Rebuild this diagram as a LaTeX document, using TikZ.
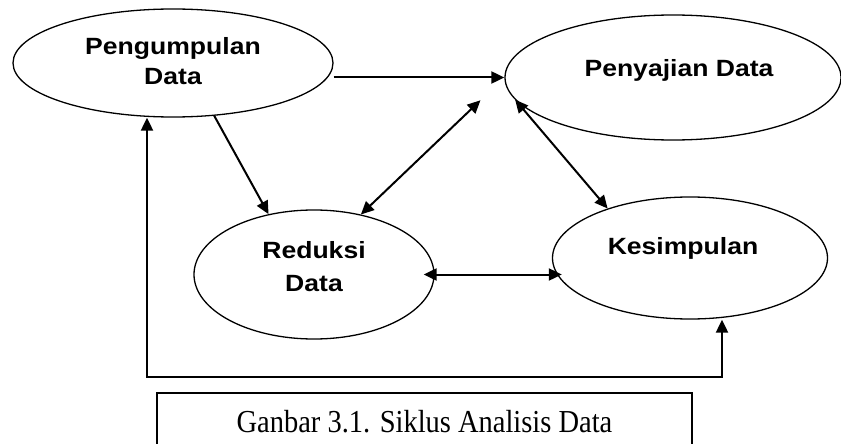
\documentclass[tikz,border=0pt]{standalone}
\usepackage{fontspec}
\setmainfont{Liberation Serif}
\setsansfont{Liberation Sans}
\newfontfamily\tahapfont[FakeStretch=1.13]{Liberation Sans}
\newfontfamily\capfont[FakeStretch=0.89]{Liberation Serif}
\usepackage{tikz}
\usetikzlibrary{shapes.geometric, arrows.meta, positioning}

\tikzset{
  tahap/.style={draw, ellipse, line width=1.3pt, inner sep=0pt},
  judul/.style={font=\tahapfont\bfseries\fontsize{23.5}{30}\selectfont, align=center},
  panah/.style={-{Triangle[length=13pt,width=12pt]}, line width=2pt},
  duapanah/.style={{Triangle[length=13pt,width=12pt]}-{Triangle[length=13pt,width=12pt]}, line width=2pt},
}

\begin{document}
\begin{tikzpicture}[x=1pt,y=-1pt]
  \useasboundingbox (0,0) rectangle (841,444);
  % tahap analisis
  \node[tahap, minimum width=320pt, minimum height=108pt] (kumpul) at (173,63) {};
  \node[tahap, minimum width=336pt, minimum height=125pt] (saji) at (673,77.5) {};
  \node[tahap, minimum width=240pt, minimum height=129pt] (reduksi) at (314,274.5) {};
  \node[tahap, minimum width=275pt, minimum height=122pt] (simpul) at (690,258) {};
  \node[judul] (kumpul-t) at (173,61.4) {Pengumpulan\\Data};
  \node[judul, anchor=base] (saji-t) at (679,77) {Penyajian Data};
  \node[judul, font=\tahapfont\bfseries\fontsize{23.5}{33}\selectfont] (reduksi-t) at (314,266.9) {Reduksi\\Data};
  \node[judul, anchor=base] (simpul-t) at (683,254) {Kesimpulan};
  % keterangan
  \node[draw, line width=2pt, minimum width=535pt, minimum height=58pt,
        font=\capfont\fontsize{32}{36}\selectfont] (cap) at (424.5,422) {Ganbar 3.1. Siklus Analisis Data};
  % panah
  \draw[panah] (kumpul.east |- saji.west) -- (saji.west);
  \draw[panah] (kumpul.-52) -- (reduksi.127);
  \draw[duapanah, shorten >=33pt] (reduksi.52) -- (saji.west);
  \draw[duapanah] (saji.188) -- (simpul.149);
  \draw[duapanah, shorten <=-11pt, shorten >=-10pt] (reduksi.east) -- (reduksi.east -| simpul.west);
  \coordinate (balikL) at (147,377);
  \coordinate (balikR) at (722,377);
  \draw[duapanah] (kumpul.south -| balikL) -- (balikL) -- (balikR) -- (simpul.south -| balikR);
\end{tikzpicture}
\end{document}
